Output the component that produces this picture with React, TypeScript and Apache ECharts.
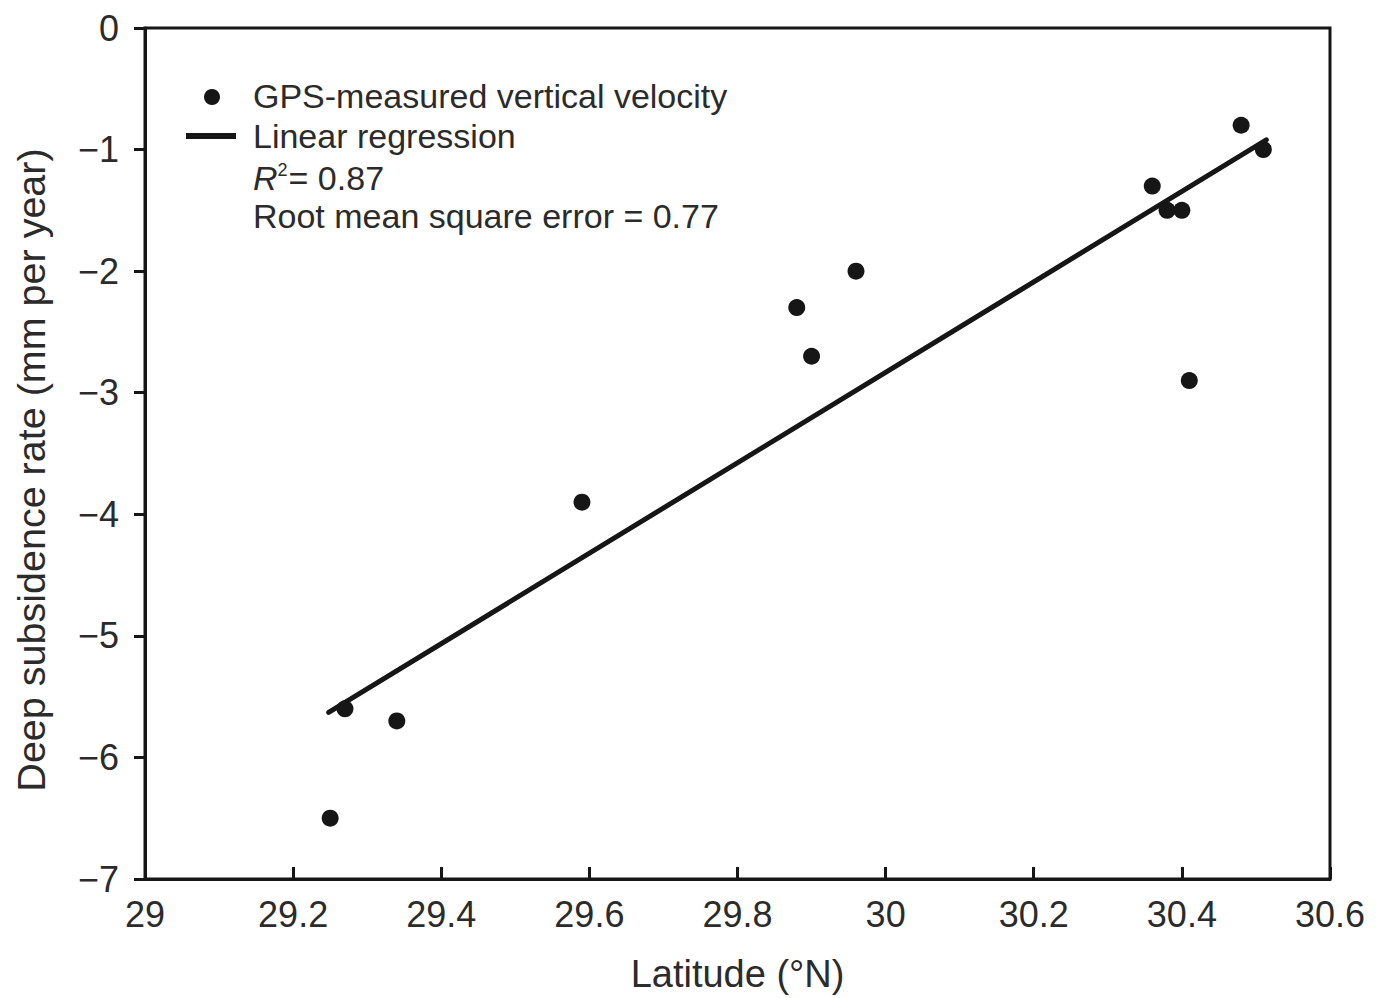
import React, { useEffect, useRef } from "react";
import * as echarts from "echarts";

const latitudes = [29.25, 29.27, 29.34, 29.59, 29.88, 29.9, 29.96, 30.36, 30.38, 30.4, 30.41, 30.48, 30.51];
const rates = [-6.5, -5.6, -5.7, -3.9, -2.3, -2.7, -2.0, -1.3, -1.5, -1.5, -2.9, -0.8, -1.0];
const regressionX = [29.248, 30.514];
const regressionY = [-5.63, -0.92];
const legendLabels = ["GPS-measured vertical velocity", "Linear regression"];
const r2Value = "0.87";
const rmseValue = "0.77";
const xTitle = "Latitude (°N)";
const yTitle = "Deep subsidence rate (mm per year)";

const FONT = "'Liberation Sans', Arial, Helvetica, sans-serif";
const TXT = "#2b2b2b";
const INK = "#161616";

export default function App() {
  const ref = useRef<HTMLDivElement>(null);
  useEffect(() => {
    if (!ref.current) return;
    const chart = echarts.init(ref.current, null, { renderer: "svg" });
    chart.setOption({
      animation: false,
      backgroundColor: "#ffffff",
      textStyle: { fontFamily: FONT },
      grid: {
        left: 145,
        right: 52,
        top: 28,
        bottom: 118,
        show: true,
        borderColor: INK,
        borderWidth: 3,
      },
      xAxis: {
        type: "value",
        min: 29,
        max: 30.6,
        interval: 0.2,
        name: xTitle,
        nameLocation: "middle",
        nameGap: 76,
        nameTextStyle: { fontSize: 38, color: TXT, fontFamily: FONT },
        axisLine: { show: true, onZero: false, lineStyle: { color: INK, width: 3 } },
        axisTick: { show: true, inside: true, length: 12, lineStyle: { color: INK, width: 3 } },
        axisLabel: {
          fontSize: 36,
          color: TXT,
          margin: 17,
          fontFamily: FONT,
          formatter: (v: number) => String(Math.round(v * 10) / 10),
        },
        splitLine: { show: false },
      },
      yAxis: {
        type: "value",
        min: -7,
        max: 0,
        interval: 1,
        axisLine: { show: true, onZero: false, lineStyle: { color: INK, width: 3 } },
        axisTick: { show: true, inside: false, length: 11, lineStyle: { color: INK, width: 3 } },
        axisLabel: {
          fontSize: 36,
          color: TXT,
          margin: 26,
          fontFamily: FONT,
          formatter: (v: number) => String(v).replace("-", "\u2212"),
        },
        splitLine: { show: false },
      },
      series: [
        {
          type: "line",
          name: legendLabels[1],
          data: regressionX.map((x, i) => [x, regressionY[i]]),
          showSymbol: false,
          symbol: "none",
          lineStyle: { color: INK, width: 5, cap: "round" },
          z: 2,
        },
        {
          type: "scatter",
          name: legendLabels[0],
          data: latitudes.map((x, i) => [x, rates[i]]),
          symbol: "circle",
          symbolSize: 17,
          itemStyle: { color: INK, opacity: 1 },
          z: 3,
        },
      ],
      graphic: [
        {
          type: "text",
          x: 31,
          y: 470,
          rotation: Math.PI / 2,
          style: {
            text: yTitle,
            fontSize: 39.5,
            fill: TXT,
            fontFamily: FONT,
            align: "center",
            verticalAlign: "middle",
          },
        },
        { type: "circle", shape: { cx: 212, cy: 97, r: 8 }, style: { fill: INK } },
        { type: "line", shape: { x1: 186, y1: 136, x2: 236, y2: 136 }, style: { stroke: INK, lineWidth: 6 } },
        {
          type: "text",
          left: 253,
          top: 79,
          style: { text: legendLabels[0], fontSize: 34, fill: TXT, fontFamily: FONT },
        },
        {
          type: "text",
          left: 253,
          top: 119,
          style: { text: legendLabels[1], fontSize: 34, fill: TXT, fontFamily: FONT },
        },
        {
          type: "text",
          left: 253,
          top: 161,
          style: {
            text: "{r|R}{s|2}{t|= " + r2Value + "}",
            fill: TXT,
            fontFamily: FONT,
            rich: {
              r: { fontSize: 34, fontStyle: "italic", fill: TXT, fontFamily: FONT, verticalAlign: "bottom" },
              s: { fontSize: 18, fill: TXT, fontFamily: FONT, verticalAlign: "top", padding: [0, 1, 14, 0] },
              t: { fontSize: 34, fill: TXT, fontFamily: FONT, verticalAlign: "bottom" },
            },
          },
        },
        {
          type: "text",
          left: 253,
          top: 199,
          style: { text: "Root mean square error = " + rmseValue, fontSize: 34, fill: TXT, fontFamily: FONT },
        },
      ],
    });
    return () => chart.dispose();
  }, []);
  return (
    <div
      ref={ref}
      style={{ position: "fixed", left: 0, top: 0, width: 1382, height: 998, background: "#fff" }}
    />
  );
}
